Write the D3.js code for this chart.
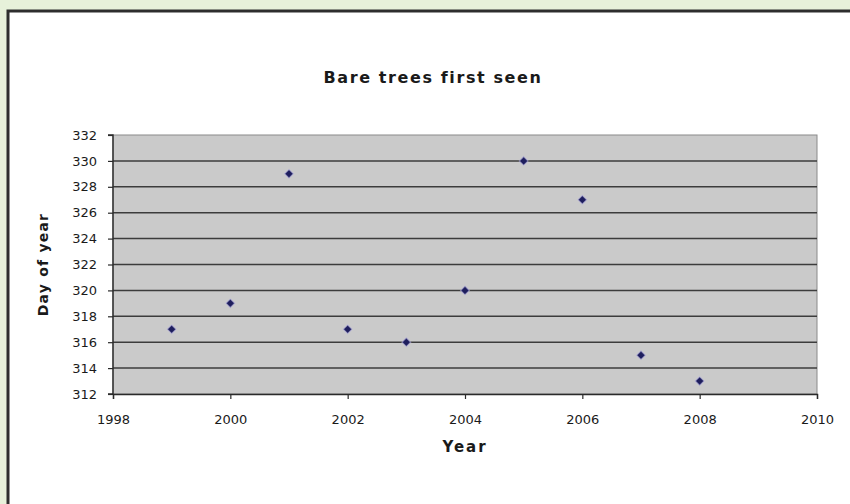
<!DOCTYPE html>
<html>
<head>
<meta charset="utf-8">
<script src="https://cdn.jsdelivr.net/npm/d3@7"></script>
<style>
  html, body { margin: 0; padding: 0; background: #e7f1da; }
  svg { display: block; }
  text { font-family: "DejaVu Sans", "Liberation Sans", Arial, sans-serif; fill: #1a1a1a; }
</style>
</head>
<body>
<svg id="chart" width="850" height="504"></svg>
<script>
const title = "Bare trees first seen";
const xTitle = "Year";
const yTitle = "Day of year";
const years = [1999, 2000, 2001, 2002, 2003, 2004, 2005, 2006, 2007, 2008];
const days = [317, 319, 329, 317, 316, 320, 330, 327, 315, 313];
const xTicks = [1998, 2000, 2002, 2004, 2006, 2008, 2010];
const yTicks = [312, 314, 316, 318, 320, 322, 324, 326, 328, 330, 332];

const W = 850, H = 504;
const plot = { left: 113, right: 817, top: 135, bottom: 394 };

const svg = d3.select("#chart");

// chart area box
svg.append("rect").attr("x", 8).attr("y", 11).attr("width", W - 8 + 5).attr("height", H)
  .attr("fill", "#ffffff").attr("stroke", "#2e2e2e").attr("stroke-width", 3);

const x = d3.scaleLinear().domain([1998, 2010]).range([plot.left, plot.right]);
const y = d3.scaleLinear().domain([312, 332]).range([plot.bottom, plot.top]);

// plot area
svg.append("rect").attr("x", plot.left).attr("y", plot.top)
  .attr("width", plot.right - plot.left).attr("height", plot.bottom - plot.top)
  .attr("fill", "#cacaca").attr("stroke", "#8a8a8a").attr("stroke-width", 1);

// gridlines
svg.append("g").selectAll("line").data(yTicks.filter(d => d !== 312 && d !== 332)).join("line")
  .attr("x1", plot.left).attr("x2", plot.right)
  .attr("y1", d => y(d)).attr("y2", d => y(d))
  .attr("stroke", "#3c3c3c").attr("stroke-width", 1.5);

// axes
const yAxis = d3.axisLeft(y).tickValues(yTicks).tickSize(5).tickPadding(11).tickFormat(d3.format("d"));
const xAxis = d3.axisBottom(x).tickValues(xTicks).tickSize(5).tickPadding(16).tickFormat(d3.format("d"));

const gy = svg.append("g").attr("transform", `translate(${plot.left},0)`).call(yAxis);
const gx = svg.append("g").attr("transform", `translate(0,${plot.bottom})`).call(xAxis);
[gx, gy].forEach(g => {
  g.select(".domain").attr("stroke", "#2a2a2a").attr("stroke-width", 1.4);
  g.selectAll(".tick line").attr("stroke", "#2a2a2a").attr("stroke-width", 1.2);
  g.selectAll(".tick text").attr("font-size", 13).attr("fill", "#222")
    .attr("font-family", "'DejaVu Sans', 'Liberation Sans', Arial, sans-serif");
});
gy.select(".domain").attr("d", `M-5,${plot.top}H0V${plot.bottom}H-5`);

// points
svg.append("g").selectAll("path").data(years.map((yr, i) => [yr, days[i]])).join("path")
  .attr("transform", d => `translate(${x(d[0])},${y(d[1])}) rotate(45)`)
  .attr("d", d3.symbol(d3.symbolSquare, 38))
  .attr("fill", "#1e1e5e").attr("stroke", "#b9b5e0").attr("stroke-width", 1.2).attr("stroke-opacity", 0.6);

// titles
svg.append("text").attr("x", 433).attr("y", 83).attr("text-anchor", "middle")
  .attr("font-size", 16).attr("font-weight", "bold").attr("letter-spacing", 1.6).text(title);
svg.append("text").attr("x", (plot.left + plot.right) / 2).attr("y", 452).attr("text-anchor", "middle")
  .attr("font-size", 15).attr("font-weight", "bold").attr("letter-spacing", 2).text(xTitle);
svg.append("text").attr("transform", `translate(48,${(plot.top + plot.bottom) / 2}) rotate(-90)`)
  .attr("text-anchor", "middle").attr("font-size", 14).attr("font-weight", "bold").attr("letter-spacing", 1.2).text(yTitle);
</script>
</body>
</html>
